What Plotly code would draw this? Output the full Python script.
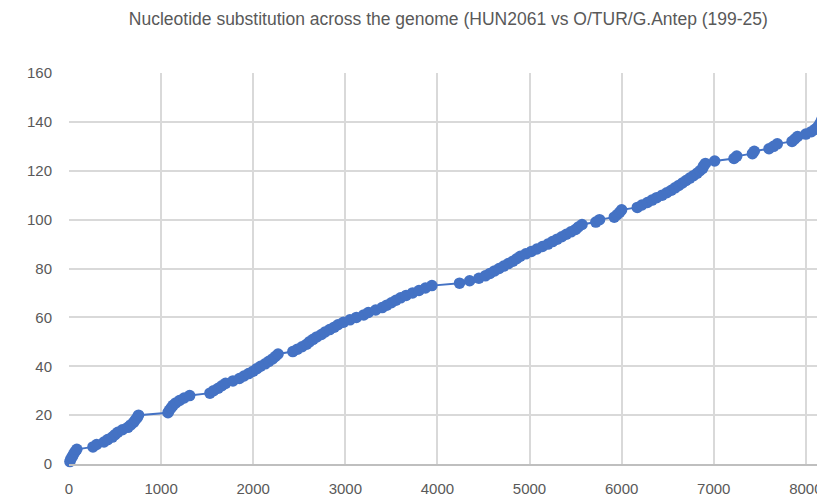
import plotly.graph_objects as go

# Genome position of each successive substitution
positions = [10, 20, 35, 50, 65, 85, 260, 300,
             380, 420, 470, 500, 530, 580, 640, 670, 700, 720, 740, 755,
             1075, 1090, 1110, 1130, 1160, 1200, 1250, 1310,
             1530, 1570, 1620, 1660, 1700, 1780,
             1850, 1900, 1950, 2000, 2040, 2080, 2130, 2170, 2210, 2240, 2270,
             2430, 2480, 2530, 2580, 2610, 2650, 2690, 2740, 2780, 2830, 2880,
             2920, 2980, 3050, 3120, 3200, 3250, 3330, 3400, 3450, 3500, 3550,
             3600, 3660, 3730, 3800, 3870, 3940,
             4240, 4350, 4450, 4520, 4570, 4620, 4670, 4720, 4770, 4820, 4860,
             4900, 4960, 5020, 5080, 5140, 5200, 5250, 5300, 5350, 5400, 5450,
             5500, 5530, 5570, 5720, 5760, 5920, 5950, 5980, 6000,
             6170, 6220, 6280, 6330, 6380, 6440, 6490, 6540, 6580, 6620, 6660,
             6700, 6740, 6780, 6820, 6850, 6880, 6890, 6910, 7010,
             7220, 7250, 7420, 7440, 7600, 7650, 7690, 7850, 7880, 7910,
             8000, 8060, 8100, 8130, 8150, 8165, 8175, 8185, 8190]
# Cumulative number of substitutions
counts = list(range(1, len(positions) + 1))

x_ticks = [0, 1000, 2000, 3000, 4000, 5000, 6000, 7000, 8000]
y_ticks = [0, 20, 40, 60, 80, 100, 120, 140, 160]

title_text = "Nucleotide substitution across the genome (HUN2061 vs O/TUR/G.Antep (199-25)"

fig = go.Figure(go.Scatter(
    x=positions, y=counts, mode="lines+markers",
    line=dict(color="#4472C4", width=2),
    marker=dict(color="#4472C4", size=11.5),
    cliponaxis=False,
))

font_fam = "Liberation Sans Narrow, Liberation Sans, sans-serif"
fig.update_layout(
    width=817, height=490,
    margin=dict(l=61, r=0, t=65, b=34),
    paper_bgcolor="white", plot_bgcolor="white",
    showlegend=False,
    title=dict(text=title_text, x=0.539, xanchor="center", y=0.977, yanchor="middle",
               font=dict(family=font_fam, size=17.5, color="#595959")),
    font=dict(family=font_fam, color="#595959", size=15),
)
fig.update_xaxes(range=[0, 8208], tickvals=x_ticks, showgrid=True,
                 gridcolor="#D9D9D9", gridwidth=1.5, zeroline=False,
                 showline=True, linecolor="#BFBFBF", linewidth=1.5,
                 ticks="", ticklabelstandoff=10)
fig.update_yaxes(range=[0, 160], tickvals=y_ticks, showgrid=True,
                 gridcolor="#D9D9D9", gridwidth=1.5, zeroline=False,
                 showline=False, ticks="", ticklabelstandoff=16)

fig.write_html("out.html")
